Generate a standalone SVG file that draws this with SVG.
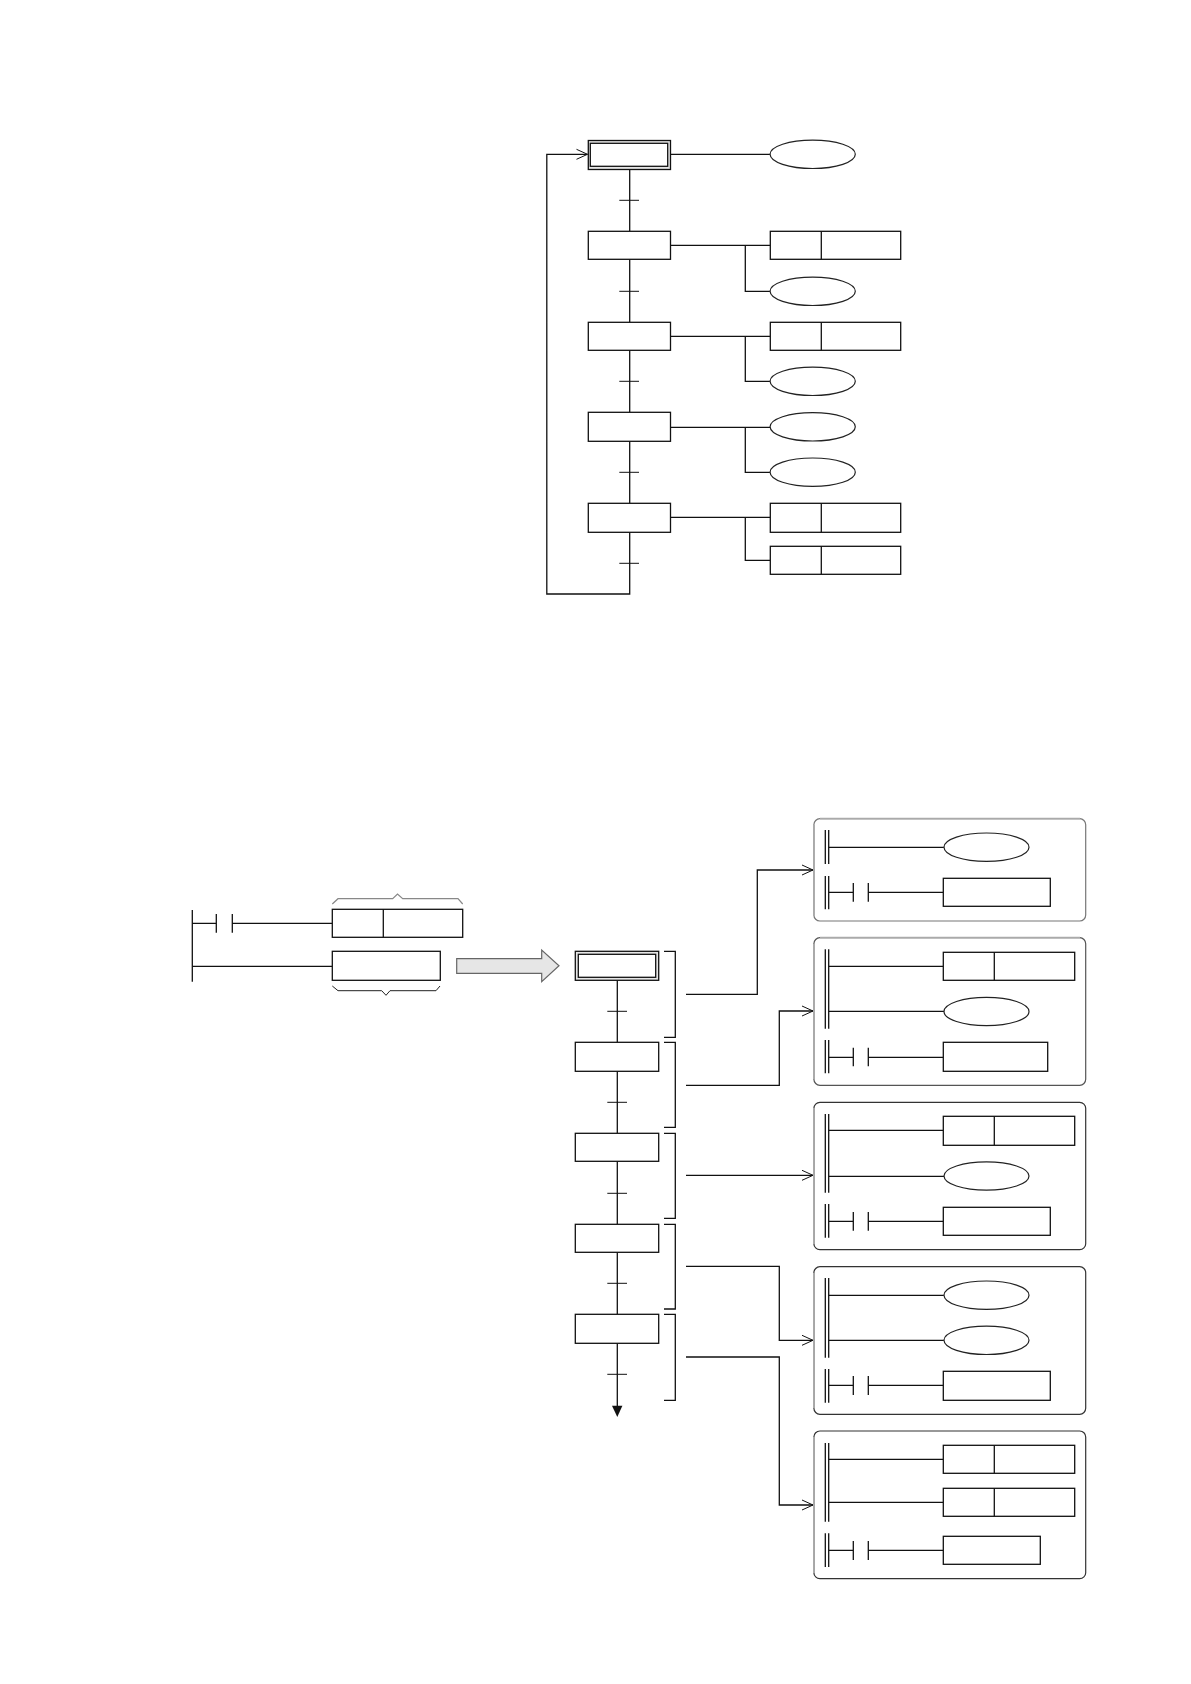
<svg xmlns="http://www.w3.org/2000/svg" width="1191" height="1684" viewBox="0 0 1191 1684">
<style>
.b{fill:#fff;stroke:#111;stroke-width:1.3}
.e{fill:#fff;stroke:#222;stroke-width:1.2}
.l{fill:none;stroke:#111;stroke-width:1.3}
.t{fill:none;stroke:#111;stroke-width:1}
.dbl{fill:#e6e6e6;stroke:#111;stroke-width:1.3}
.pan{fill:#fff;stroke:#333;stroke-width:1.2}
.panl{fill:none;stroke:#aaa;stroke-width:1.8}
.g{fill:none;stroke:#888;stroke-width:1.2}
.d{fill:none;stroke:#222;stroke-width:1}
</style>
<defs>
<marker id="open" markerUnits="userSpaceOnUse" markerWidth="14" markerHeight="12" refX="12" refY="6" orient="auto">
<path d="M1 1 L12 6 L1 11" fill="none" stroke="#111" stroke-width="1"/>
</marker>
</defs>
<rect width="1191" height="1684" fill="#fff"/>

<g id="connectors">
<!-- upper chart -->
<path class="l" d="M629.7 169.5V231.3M629.7 259.3V322.3M629.7 350.3V412.3M629.7 441.3V503.3M629.7 532.3V594H546.8V154.3H587.5" marker-end="url(#open)"/>
<path class="t" d="M619.3 200.3H639M619.3 291.3H639M619.3 381.3H639M619.3 472.3H639M619.3 563.3H639"/>
<path class="l" d="M670.5 154.3H770M670.5 245.3H770M745.3 245.3V291.3H770M670.5 336.3H770M745.3 336.3V381.3H770M670.5 427.3H770M745.3 427.3V472.3H770M670.5 517.3H770M745.3 517.3V560.3H770"/>
<!-- ladder -->
<path class="l" d="M192.3 910V981.7M192.3 923.3H216.3M216.3 914V932.7M232.3 914V932.7M232.3 923.3H332.3M192.3 966.3H332.3"/>
<!-- lower chart -->
<path class="l" d="M617.3 980.3V1042.3M617.3 1071.3V1133.3M617.3 1161.3V1224.3M617.3 1252.3V1314.3M617.3 1343.3V1407"/>
<path class="t" d="M607.3 1011.3H627M607.3 1102.3H627M607.3 1193.3H627M607.3 1283.3H627M607.3 1374.3H627"/>
<polygon points="612,1405.8 622.4,1405.8 617.3,1417" fill="#111"/>
<path class="l" d="M664 951.3H675.3V1037.3H664M664 1042.3H675.3V1127.3H664M664 1133.3H675.3V1218.3H664M664 1224.3H675.3V1309H664M664 1314.3H675.3V1400.3H664"/>
<path class="l" d="M686 994.3H757.3V870H813" marker-end="url(#open)"/>
<path class="l" d="M686 1085.3H779.3V1011H813" marker-end="url(#open)"/>
<path class="l" d="M686 1175.3H813" marker-end="url(#open)"/>
<path class="l" d="M686 1266.3H779.3V1340.3H813" marker-end="url(#open)"/>
<path class="l" d="M686 1357H779.3V1505H813" marker-end="url(#open)"/>
</g>

<g id="upper-step-0"><rect class="dbl" x="588.3" y="140.5" width="82.2" height="29"/><rect class="b" x="590.3" y="143.3" width="77.4" height="23"/></g>
<g id="upper-step-1"><rect class="b" x="588.3" y="231.3" width="82.2" height="28"/></g>
<g id="upper-step-2"><rect class="b" x="588.3" y="322.3" width="82.2" height="28"/></g>
<g id="upper-step-3"><rect class="b" x="588.3" y="412.3" width="82.2" height="29"/></g>
<g id="upper-step-4"><rect class="b" x="588.3" y="503.3" width="82.2" height="29"/></g>

<g id="upper-action-0"><ellipse class="e" cx="812.7" cy="154.3" rx="42.6" ry="14.2"/></g>
<g id="upper-action-1a"><rect class="b" x="770.3" y="231.3" width="130.4" height="28"/><path class="l" d="M821.3 231.3V259.3"/></g>
<g id="upper-action-1b"><ellipse class="e" cx="812.7" cy="291.3" rx="42.6" ry="14.2"/></g>
<g id="upper-action-2a"><rect class="b" x="770.3" y="322.3" width="130.4" height="28"/><path class="l" d="M821.3 322.3V350.3"/></g>
<g id="upper-action-2b"><ellipse class="e" cx="812.7" cy="381.3" rx="42.6" ry="14.2"/></g>
<g id="upper-action-3a"><ellipse class="e" cx="812.7" cy="426.8" rx="42.6" ry="14.2"/></g>
<g id="upper-action-3b"><ellipse class="e" cx="812.7" cy="472.2" rx="42.6" ry="14.2"/></g>
<g id="upper-action-4a"><rect class="b" x="770.3" y="503.3" width="130.4" height="29"/><path class="l" d="M821.3 503.3V532.3"/></g>
<g id="upper-action-4b"><rect class="b" x="770.3" y="546.3" width="130.4" height="28"/><path class="l" d="M821.3 546.3V574.3"/></g>

<g id="ladder-output-1"><rect class="b" x="332.3" y="909.3" width="130.4" height="28"/><path class="l" d="M383.3 909.3V937.3"/><path class="g" d="M332.3 904L338 898.7H392.7L397.5 894L402.7 898.7H458L462.7 904"/></g>
<g id="ladder-output-2"><rect class="b" x="332.3" y="951.3" width="108" height="29"/><path class="d" d="M332.3 986L338 990.7H381.7L386 995.3L390 990.7H436L440 986"/></g>
<g id="convert-arrow"><polygon points="456.7,958.7 541.7,958.7 541.7,950 559,965.7 541.7,981.7 541.7,973.3 456.7,973.3" fill="#e6e6e6" stroke="#666" stroke-width="1.2"/></g>

<g id="lower-step-0"><rect class="dbl" x="575.3" y="951.3" width="83.4" height="29"/><rect class="b" x="578.3" y="954.3" width="77.4" height="23"/></g>
<g id="lower-step-1"><rect class="b" x="575.3" y="1042.3" width="83.4" height="29"/></g>
<g id="lower-step-2"><rect class="b" x="575.3" y="1133.3" width="83.4" height="28"/></g>
<g id="lower-step-3"><rect class="b" x="575.3" y="1224.3" width="83.4" height="28"/></g>
<g id="lower-step-4"><rect class="b" x="575.3" y="1314.3" width="83.4" height="29"/></g>

<g id="panel-1">
<rect class="pan" x="813.9" y="818.7" width="271.8" height="102.3" rx="6" style="stroke:#777"/>
<path class="panl" d="M813.9 825V915M820 818.7H1080"/>
<path class="l" d="M825.3 830V864M828.7 830V864M825.3 876V909.3M828.7 876V909.3M828.7 847.3H944M828.7 892.3H853.3M853.3 883V901.7M868.3 883V901.7M868.3 892.3H943.3"/>
<ellipse class="e" cx="986.5" cy="847.2" rx="42.5" ry="14.2"/>
<rect class="b" x="943.3" y="878.3" width="107" height="28"/>
</g>
<g id="panel-2">
<rect class="pan" x="813.9" y="937.7" width="271.8" height="147.6" rx="6" style="stroke:#555"/>
<path class="panl" d="M813.9 944V1079M820 937.7H1080"/>
<path class="l" d="M825.3 949.3V1028.7M828.7 949.3V1028.7M825.3 1040V1073.3M828.7 1040V1073.3M828.7 966.3H943.3M828.7 1011.3H944M828.7 1057.3H853.3M853.3 1047.7V1066.3M868.3 1047.7V1066.3M868.3 1057.3H943.3"/>
<rect class="b" x="943.3" y="952.3" width="131.4" height="28"/><path class="l" d="M994.3 952.3V980.3"/>
<ellipse class="e" cx="986.5" cy="1011.5" rx="42.5" ry="14.2"/>
<rect class="b" x="943.3" y="1042.3" width="104.4" height="29"/>
</g>
<g id="panel-3">
<rect class="pan" x="813.9" y="1102.3" width="271.8" height="147.4" rx="6"/>
<path class="panl" d="M813.9 1108V1244"/>
<path class="l" d="M825.3 1114V1192.7M828.7 1114V1192.7M825.3 1204V1237.7M828.7 1204V1237.7M828.7 1130.3H943.3M828.7 1176.3H944M828.7 1221.3H853.3M853.3 1212V1230.7M868.3 1212V1230.7M868.3 1221.3H943.3"/>
<rect class="b" x="943.3" y="1116.3" width="131.4" height="29"/><path class="l" d="M994.3 1116.3V1145.3"/>
<ellipse class="e" cx="986.5" cy="1176" rx="42.5" ry="14.2"/>
<rect class="b" x="943.3" y="1207.3" width="107" height="28"/>
</g>
<g id="panel-4">
<rect class="pan" x="813.9" y="1266.7" width="271.8" height="147.6" rx="6"/>
<path class="panl" d="M813.9 1273V1408"/>
<path class="l" d="M825.3 1278V1357.7M828.7 1278V1357.7M825.3 1369V1402.7M828.7 1369V1402.7M828.7 1295.3H944M828.7 1340.3H944M828.7 1385.3H853.3M853.3 1376V1395M868.3 1376V1395M868.3 1385.3H943.3"/>
<ellipse class="e" cx="986.5" cy="1295.2" rx="42.5" ry="14.2"/>
<ellipse class="e" cx="986.5" cy="1340.3" rx="42.5" ry="14.2"/>
<rect class="b" x="943.3" y="1371.3" width="107" height="29"/>
</g>
<g id="panel-5">
<rect class="pan" x="813.9" y="1431" width="271.8" height="147.7" rx="6"/>
<path class="panl" d="M813.9 1437V1573"/>
<path class="l" d="M825.3 1443V1521.7M828.7 1443V1521.7M825.3 1533.3V1567M828.7 1533.3V1567M828.7 1459.3H943.3M828.7 1502.3H943.3M828.7 1550.3H853.3M853.3 1541V1560M868.3 1541V1560M868.3 1550.3H943.3"/>
<rect class="b" x="943.3" y="1445.3" width="131.4" height="28"/><path class="l" d="M994.3 1445.3V1473.3"/>
<rect class="b" x="943.3" y="1488.3" width="131.4" height="28"/><path class="l" d="M994.3 1488.3V1516.3"/>
<rect class="b" x="943.3" y="1536.3" width="97" height="28"/>
</g>
</svg>
